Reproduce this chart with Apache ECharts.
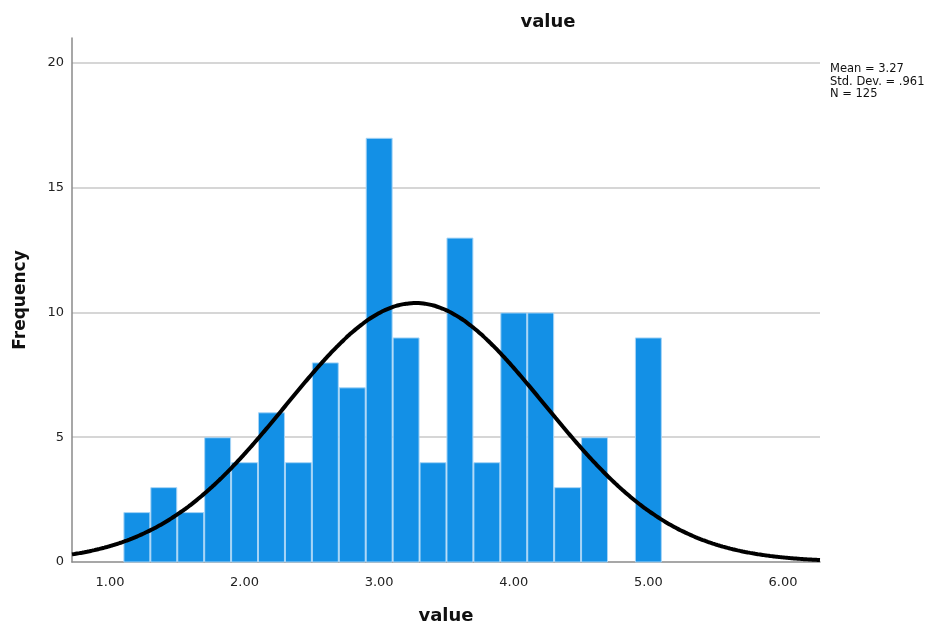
<!DOCTYPE html>
<html>
<head>
<meta charset="utf-8">
<script src="https://cdn.jsdelivr.net/npm/echarts@6/dist/echarts.min.js"></script>
<style>
  html, body { margin: 0; padding: 0; background: #fff; }
  #chart { width: 945px; height: 630px; }
</style>
</head>
<body>
<div id="chart"></div>
<script>
// Histogram bins (centre of each 0.2-wide bin) and their frequencies
const binCenters = [1.2, 1.4, 1.6, 1.8, 2.0, 2.2, 2.4, 2.6, 2.8, 3.0,
                    3.2, 3.4, 3.6, 3.8, 4.0, 4.2, 4.4, 4.6, 4.8, 5.0];
const frequencies = [2, 3, 2, 5, 4, 6, 4, 8, 7, 17,
                     9, 4, 13, 4, 10, 10, 3, 5, 0, 9];
const binWidth = 0.2;

// Summary statistics shown beside the plot
const mean = 3.27;
const stdDev = 0.961;
const count = 125;

// Axis tick labels
const xTicks = [1, 2, 3, 4, 5, 6];
const yTicks = [0, 5, 10, 15, 20];
const xRange = [0.718, 6.275];
const yMax = 21;

const FONT = '"DejaVu Sans", sans-serif';

// Fitted normal curve scaled to the histogram (count * binWidth * pdf)
const curve = [];
const scale = count * binWidth / (stdDev * Math.sqrt(2 * Math.PI));
for (let i = 0; i <= 300; i++) {
  const x = xRange[0] + (xRange[1] - xRange[0]) * i / 300;
  const z = (x - mean) / stdDev;
  curve.push([x, scale * Math.exp(-0.5 * z * z)]);
}

const barData = binCenters.map((c, i) => [c, frequencies[i]]);

const chart = echarts.init(document.getElementById('chart'), null, { renderer: 'canvas' });

chart.setOption({
  animation: false,
  backgroundColor: '#ffffff',
  title: {
    text: 'value',
    left: 543,
    top: 8,
    textAlign: 'center',
    textStyle: { fontFamily: FONT, fontWeight: 'bold', fontSize: 18, color: '#111' }
  },
  graphic: [{
    type: 'text',
    left: 830,
    top: 63,
    style: {
      text: 'Mean = ' + mean.toFixed(2) + '\nStd. Dev. = ' + stdDev.toFixed(3).replace(/^0/, '') + '\nN = ' + count,
      font: '11.5px ' + FONT,
      lineHeight: 12.6,
      fill: '#111'
    }
  }],
  grid: { left: 72, right: 125, top: 38, bottom: 65 },
  xAxis: {
    type: 'value',
    min: xRange[0],
    max: xRange[1],
    name: 'value',
    nameLocation: 'middle',
    nameGap: 45,
    nameTextStyle: { fontFamily: FONT, fontWeight: 'bold', fontSize: 18, color: '#111' },
    axisLine: { show: true, onZero: false, lineStyle: { color: '#8a8a8a', width: 1.5 } },
    axisTick: { show: false },
    splitLine: { show: false },
    axisLabel: {
      customValues: xTicks,
      formatter: v => v.toFixed(2),
      fontFamily: FONT,
      fontSize: 13,
      color: '#222',
      margin: 14
    }
  },
  yAxis: {
    type: 'value',
    min: 0,
    max: yMax,
    interval: 5,
    name: 'Frequency',
    nameLocation: 'middle',
    nameGap: 43,
    nameRotate: 90,
    nameTextStyle: { fontFamily: FONT, fontWeight: 'bold', fontSize: 17, color: '#111' },
    axisLine: { show: true, lineStyle: { color: '#8a8a8a', width: 1.5 } },
    axisTick: { show: false },
    axisLabel: {
      customValues: yTicks,
      fontFamily: FONT,
      fontSize: 13,
      color: '#222',
      margin: 8
    },
    splitLine: { show: true, showMinLine: false, showMaxLine: false, lineStyle: { color: '#c9c9c9', width: 1.5 } }
  },
  series: [
    {
      type: 'custom',
      data: barData,
      z: 2,
      renderItem: function (params, api) {
        const c = api.value(0);
        const h = api.value(1);
        if (!h) return null;
        const p0 = api.coord([c - binWidth / 2, h]);
        const p1 = api.coord([c + binWidth / 2, 0]);
        return {
          type: 'rect',
          shape: { x: p0[0] + 0.5, y: p0[1] + 0.5, width: p1[0] - p0[0] - 1, height: p1[1] - p0[1] - 0.5 },
          style: { fill: '#1390e6', stroke: '#a6d4f6', lineWidth: 1 }
        };
      }
    },
    {
      type: 'line',
      data: curve,
      showSymbol: false,
      smooth: true,
      z: 3,
      lineStyle: { color: '#000', width: 4 }
    }
  ]
});
</script>
</body>
</html>
